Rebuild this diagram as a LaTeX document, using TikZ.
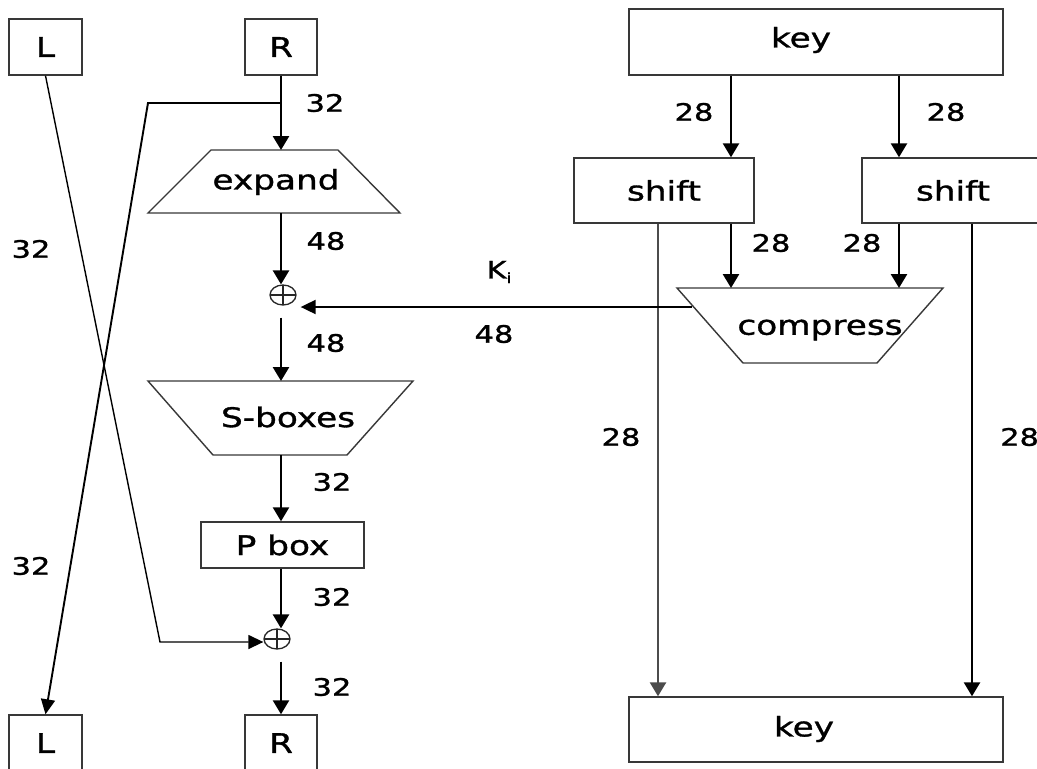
\documentclass[tikz,border=0pt]{standalone}
\usepackage{fontspec}
\setmainfont{DejaVu Sans}[FakeStretch=1.27,FakeBold=1.2]
\usetikzlibrary{arrows.meta,shapes.geometric}
\begin{document}
\begin{tikzpicture}[x=1pt,y=-1pt,
  box/.style={draw=black!78,line width=1.4pt,fill=white,inner sep=0pt,font=\fontsize{27}{32}\selectfont},
  shp/.style={draw=black!78,line width=1.4pt,fill=white},
  tlbl/.style={inner sep=0pt,font=\fontsize{27}{32}\selectfont},
  num/.style={inner sep=0pt,font=\fontsize{24}{28}\selectfont},
  arr/.style={line width=2.6pt,-{Triangle[length=14pt,width=16pt]}},
  karr/.style={line width=1.9pt,-{Triangle[length=15pt,width=14pt]}},
  xarr/.style={line width=1.4pt,-{Triangle[length=15pt,width=14pt]}},
  xorn/.style={draw=black!85,line width=1.3pt,ellipse,inner sep=0pt,minimum width=26pt,minimum height=20pt,
    path picture={\draw[line width=1.3pt] (path picture bounding box.north) -- (path picture bounding box.south)
      (path picture bounding box.west) -- (path picture bounding box.east);}}]
\useasboundingbox (0,0) rectangle (1037,769);
\fill[white] (0,0) rectangle (1037,769);
\clip (0,0) rectangle (1037,769);

% column coordinates
\coordinate (c658) at (658,0);
\coordinate (c731) at (731,0);
\coordinate (c899) at (899,0);
\coordinate (c972) at (972,0);

% left part boxes
\node[box,minimum width=73pt,minimum height=56pt] (Lt) at (45.5,47) {L};
\node[box,minimum width=72pt,minimum height=56pt] (Rt) at (281,47) {R};
\node[box,minimum width=73pt,minimum height=56pt] (Lb) at (45.5,743) {L};
\node[box,minimum width=72pt,minimum height=56pt] (Rb) at (281,743) {R};
\node[box,minimum width=163pt,minimum height=46pt] (Pb) at (282.5,545) {P box};

% expand
\draw[shp] (211,150) -- (338,150) -- (400,213) -- (148,213) -- cycle;
\node[tlbl] (expand) at (276,182) {expand};
\coordinate (expN) at (281,150);
\coordinate (expS) at (281,213);

% S-boxes
\draw[shp] (148,381) -- (413,381) -- (347,455) -- (213,455) -- cycle;
\node[tlbl] (sbox) at (288,417) {S-boxes};
\coordinate (sbN) at (281,381);
\coordinate (sbS) at (281,455);

% xor nodes
\node[xorn] (x1) at (283,295) {};
\node[xorn] (x2) at (277,639) {};

% key side
\node[box,minimum width=374pt,minimum height=66pt] (kt) at (816,42) {};
\node[tlbl] (ktt) at (801,40) {key};
\node[box,minimum width=180pt,minimum height=65pt] (s1) at (664,190.5) {shift};
\node[box,minimum width=182pt,minimum height=65pt] (s2) at (953,190.5) {shift};
\node[box,minimum width=374pt,minimum height=65pt] (kb) at (816,729.5) {};
\node[tlbl] (kbt) at (804,729) {key};

% compress
\draw[shp] (677,288) -- (943,288) -- (877,363) -- (743,363) -- cycle;
\node[tlbl] (compress) at (820,330) {compress};
\coordinate (cN1) at (731,288);
\coordinate (cN2) at (899,288);
\coordinate (cW) at (692,307);

% main column connectors
\draw[arr] (Rt.south) -- (expN);
\draw[arr] (expS) -- (expS |- x1.north);
\draw[arr,shorten <=12pt] (expS |- x1.south) -- (sbN);
\draw[arr] (sbS) -- (sbS |- Pb.north);
\draw[arr] (sbS |- Pb.south) -- (sbS |- x2.north);
\draw[arr,shorten <=12pt] (sbS |- x2.south) -- (sbS |- Rb.north);

% cross lines
\coordinate (br) at (281,103);
\coordinate (brL) at (148,103);
\draw[xarr,line width=1.9pt] (br) -- (brL) -- (Lb.north);
\coordinate (lc) at (160,642);
\draw[xarr] (Lt.south) -- (lc) -- (lc -| x2.west);

% key connectors
\draw[arr] (kt.south -| c731) -- (s1.north -| c731);
\draw[arr] (kt.south -| c899) -- (s2.north -| c899);
\draw[arr] (s1.south -| c731) -- (cN1);
\draw[arr] (s2.south -| c899) -- (cN2);
\draw[arr,draw=black!70,fill=black!70] (s1.south -| c658) -- (kb.north -| c658);
\draw[arr] (s2.south -| c972) -- (kb.north -| c972);
\draw[karr,shorten >=4pt] (cW) -- (cW -| x1.east);

% labels
\node[num] (n1) at (325,103) {32};
\node[num] (n2) at (326,241) {48};
\node[num] (n3) at (326,343) {48};
\node[num] (n4) at (332,482) {32};
\node[num] (n5) at (332,597) {32};
\node[num] (n6) at (332,687) {32};
\node[num] (n7) at (31,249) {32};
\node[num] (n8) at (31,566) {32};
\node[num] (n9) at (694,112) {28};
\node[num] (n10) at (946,112) {28};
\node[num] (n11) at (771,243) {28};
\node[num] (n12) at (862,243) {28};
\node[num] (n13) at (621,437) {28};
\node[num,anchor=west] (n14) at (1000,437) {28};
\node[num] (ki) at (499,272) {K\raisebox{-0.35ex}{\fontsize{14}{16}\selectfont i}};
\node[num] (n15) at (494,334) {48};
\end{tikzpicture}
\end{document}
